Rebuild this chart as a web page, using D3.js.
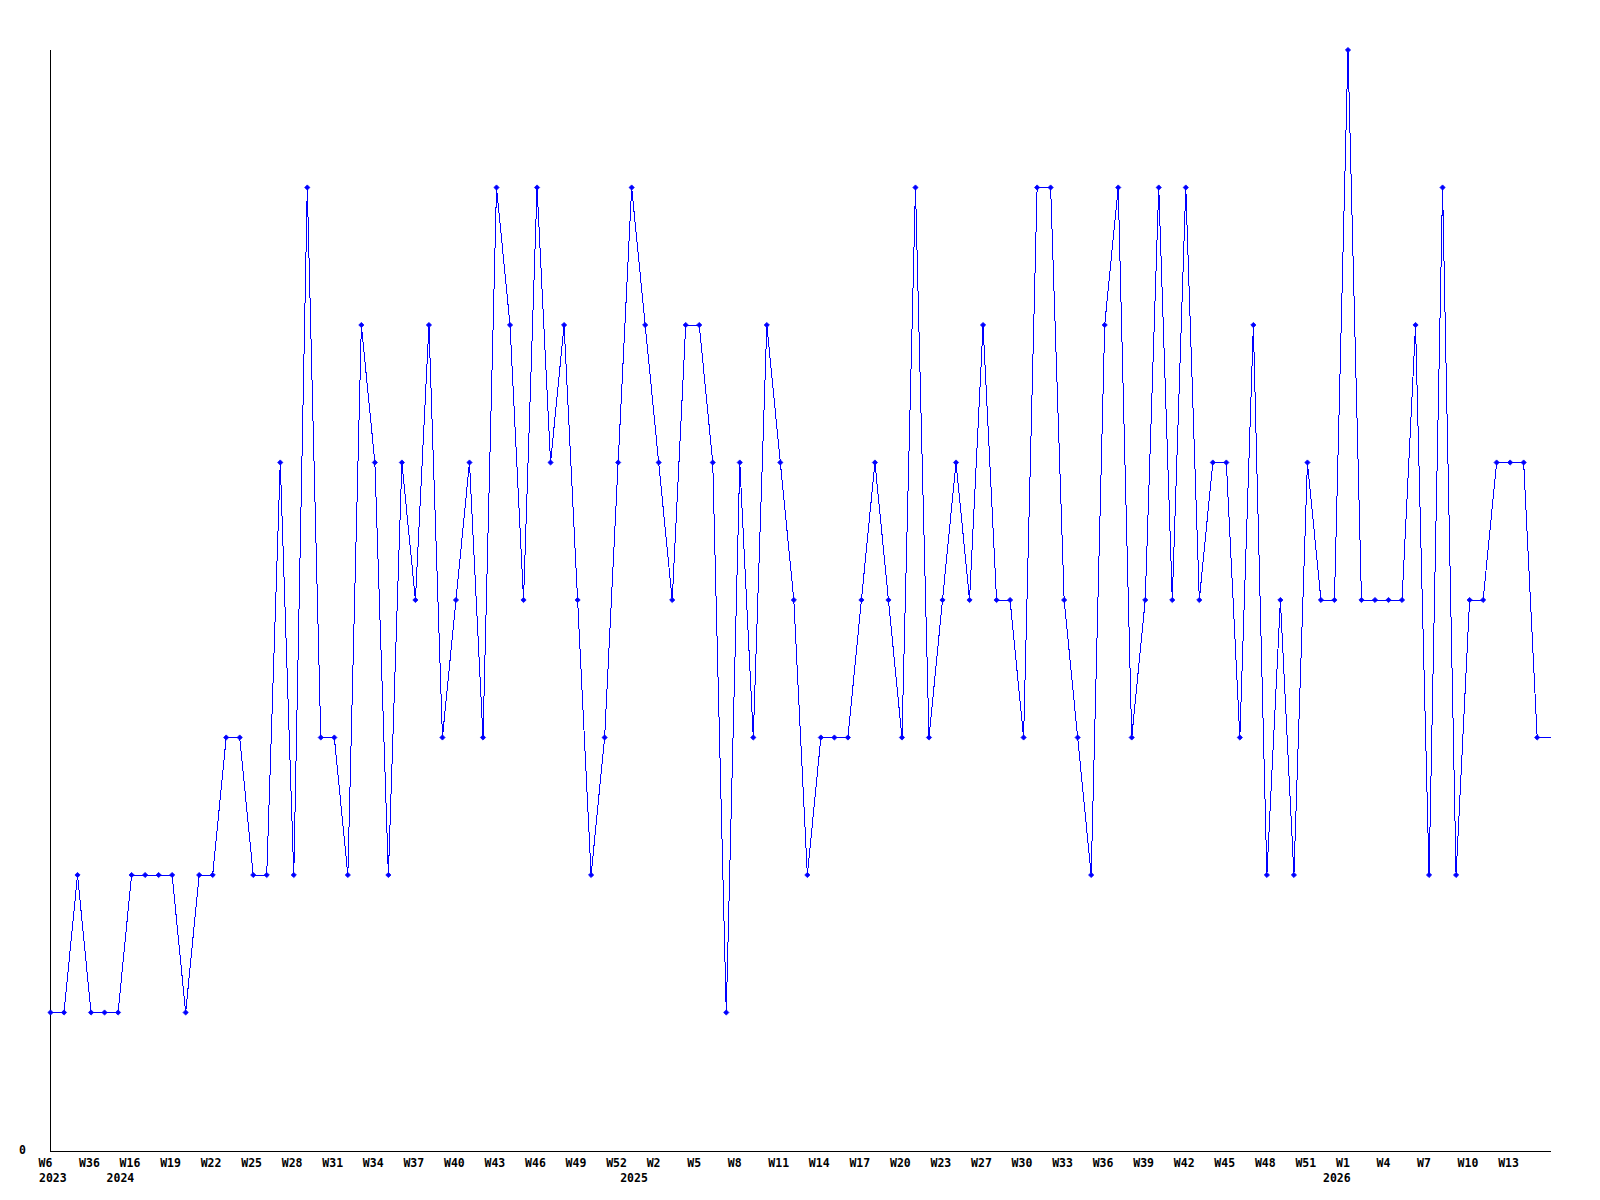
<!DOCTYPE html>
<html>
<head>
<meta charset="utf-8">
<script src="https://cdn.jsdelivr.net/npm/d3@7"></script>
<style>
  body { margin: 0; background: #fff; }
  svg { display: block; }
  .lbl { font-family: "DejaVu Sans Mono", "Liberation Mono", monospace; font-weight: bold; font-size: 11.5px; fill: #000; }
</style>
</head>
<body>
<svg id="svg" width="1600" height="1200"></svg>
<script>
// week of each point (x categories) and the year it belongs to
const weeks = [
  6, 22, 30, 36, 44,
  13, 16, 17, 18, 19, 20, 21, 22, 23, 24, 25, 26, 27, 28, 29, 30, 31, 32, 33, 34,
  35, 36, 37, 38, 39, 40, 41, 42, 43, 44, 45, 46, 47, 48, 49, 50, 51, 52,
  0, 1, 2, 3, 4, 5, 6, 7, 8, 9, 10, 11, 12, 13, 14, 15, 16, 17, 18, 19, 20, 21, 22, 23, 24, 25,
  27, 28, 29, 30, 31, 32, 33, 34, 35, 36, 37, 38, 39, 40, 41, 42, 43, 44, 45, 46, 47, 48, 49, 50, 51, 52,
  0, 1, 2, 3, 4, 5, 6, 7, 8, 9, 10, 11, 12, 13, 14, 15, 16
];
const years = [
  2023, 2023, 2023, 2023, 2023,
  2024, 2024, 2024, 2024, 2024, 2024, 2024, 2024, 2024, 2024, 2024, 2024, 2024, 2024, 2024, 2024, 2024, 2024, 2024, 2024,
  2024, 2024, 2024, 2024, 2024, 2024, 2024, 2024, 2024, 2024, 2024, 2024, 2024, 2024, 2024, 2024, 2024, 2024,
  2025, 2025, 2025, 2025, 2025, 2025, 2025, 2025, 2025, 2025, 2025, 2025, 2025, 2025, 2025, 2025, 2025, 2025, 2025, 2025, 2025, 2025, 2025, 2025, 2025, 2025,
  2025, 2025, 2025, 2025, 2025, 2025, 2025, 2025, 2025, 2025, 2025, 2025, 2025, 2025, 2025, 2025, 2025, 2025, 2025, 2025, 2025, 2025, 2025, 2025, 2025, 2025,
  2026, 2026, 2026, 2026, 2026, 2026, 2026, 2026, 2026, 2026, 2026, 2026, 2026, 2026, 2026, 2026, 2026
];
const values = [
  1, 1, 2, 1, 1, 1, 2, 2, 2, 2,
  1, 2, 2, 3, 3, 2, 2, 5, 2, 7,
  3, 3, 2, 6, 5, 2, 5, 4, 6, 3,
  4, 5, 3, 7, 6, 4, 7, 5, 6, 4,
  2, 3, 5, 7, 6, 5, 4, 6, 6, 5,
  1, 5, 3, 6, 5, 4, 2, 3, 3, 3,
  4, 5, 4, 3, 7, 3, 4, 5, 4, 6,
  4, 4, 3, 7, 7, 4, 3, 2, 6, 7,
  3, 4, 7, 4, 7, 4, 5, 5, 3, 6,
  2, 4, 2, 5, 4, 4, 8, 4, 4, 4,
  4, 6, 2, 7, 2, 4, 4, 5, 5, 5,
  3, 3
];
const yTicks = [0];
const labelEvery = 3;

const data = values.map((v, i) => ({ key: years[i] + '-W' + weeks[i], week: weeks[i], year: years[i], v, i }));
const last = data.length - 1;

const svg = d3.select('#svg');
const mLeft = 50.5, mRight = 1550.7, mTop = 50, mBottom = 1150;

const x = d3.scalePoint().domain(data.map(d => d.key)).range([mLeft, mRight]);
const y = d3.scaleLinear().domain([0, 8]).range([mBottom, mTop]);

// axes: plain lines, no ticks
svg.append('line')
  .attr('x1', mLeft).attr('x2', mLeft).attr('y1', mTop).attr('y2', 1152)
  .attr('stroke', '#000').attr('shape-rendering', 'crispEdges');
svg.append('line')
  .attr('x1', mLeft).attr('x2', mRight).attr('y1', 1151.5).attr('y2', 1151.5)
  .attr('stroke', '#000').attr('shape-rendering', 'crispEdges');

svg.selectAll('.ylbl').data(yTicks).join('text')
  .attr('class', 'lbl ylbl')
  .attr('x', 26).attr('y', d => y(d) + 3.5)
  .attr('text-anchor', 'end')
  .text(d => d);

// week labels every 3rd point (not on the open last week), year under first week of each year
svg.selectAll('.wlbl').data(data.filter(d => d.i % labelEvery === 0 && d.i < last)).join('text')
  .attr('class', 'lbl wlbl')
  .attr('x', d => x(d.key) - 12)
  .attr('y', 1166.5)
  .text(d => 'W' + d.week);

svg.selectAll('.yrlbl').data(data.filter((d, i) => i === 0 || d.year !== data[i - 1].year)).join('text')
  .attr('class', 'lbl yrlbl')
  .attr('x', d => x(d.key) - 11.5)
  .attr('y', 1181.5)
  .text(d => d.year);

// line
const line = d3.line().x(d => x(d.key)).y(d => y(d.v));
svg.append('path')
  .attr('d', line(data))
  .attr('fill', 'none')
  .attr('stroke', '#0000ff')
  .attr('stroke-width', 1)
  .attr('shape-rendering', 'crispEdges');

// markers (none on the last, still open week)
svg.selectAll('.mk').data(data.slice(0, -1)).join('path')
  .attr('class', 'mk')
  .attr('transform', d => `translate(${x(d.key)},${y(d.v)})`)
  .attr('d', 'M0,-2.6L2.6,0L0,2.6L-2.6,0Z')
  .attr('fill', '#0000ff')
  .attr('stroke', '#0000ff')
  .attr('stroke-width', 0.8);
</script>
</body>
</html>
